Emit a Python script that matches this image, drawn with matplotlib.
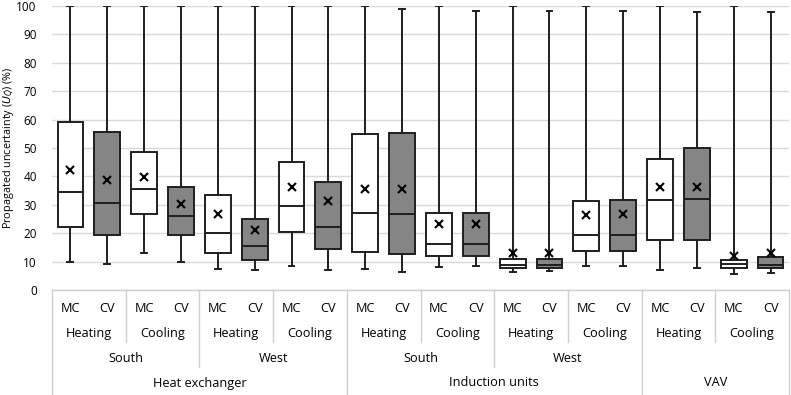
import matplotlib
matplotlib.use('Agg')
import matplotlib.pyplot as plt

plt.rcParams['font.family'] = ['Open Sans', 'DejaVu Sans']

# box statistics (order: HX S H, HX S C, HX W H, HX W C, IU S H, IU S C, IU W H, IU W C, VAV H, VAV C; MC then CV)
methods = ['MC', 'CV'] * 10
modes = ['Heating', 'Cooling'] * 5
orient = ['South', 'West', 'South', 'West']
systems = ['Heat exchanger', 'Induction units', 'VAV']

whis_lo = [10.0, 9.0, 13.1, 10.0, 7.5, 7.1, 8.5, 7.0, 7.4, 6.4,
           8.2, 8.5, 6.3, 6.8, 8.3, 8.5, 7.0, 7.6, 5.7, 6.1]
q1 = [22.1, 19.3, 26.9, 19.3, 12.9, 10.5, 20.4, 14.4, 13.3, 12.8,
      12.1, 12.1, 7.7, 7.8, 13.9, 13.9, 17.6, 17.6, 7.7, 7.9]
median = [34.6, 30.7, 35.6, 25.9, 20.1, 15.6, 29.5, 22.1, 27.2, 26.9,
          16.2, 16.2, 8.9, 8.7, 19.2, 19.3, 31.6, 32.0, 9.0, 8.9]
q3 = [59.3, 55.5, 48.6, 36.1, 33.6, 25.1, 44.9, 38.1, 54.8, 55.4,
      27.2, 27.2, 10.8, 10.9, 31.2, 31.6, 46.2, 50.0, 10.5, 11.5]
whis_hi = [100, 100, 100, 100, 100, 100, 100, 100, 100, 98.8,
           100, 98.2, 100, 98.2, 100, 98.2, 100, 98.0, 100, 98.0]
mean = [42.4, 38.9, 39.8, 30.3, 26.7, 21.3, 36.4, 31.4, 35.5, 35.4,
        23.2, 23.2, 12.9, 12.9, 26.4, 26.7, 36.4, 36.4, 11.9, 12.9]

W, H = 791, 395
fig = plt.figure(figsize=(W / 100, H / 100), dpi=100)
ax = fig.add_axes([52 / W, (H - 290) / H, 737 / W, 284 / H])

stats = []
for i in range(len(q1)):
    stats.append(dict(med=median[i], q1=q1[i], q3=q3[i], whislo=whis_lo[i],
                      whishi=whis_hi[i], mean=mean[i], fliers=[]))

edge = '#1f1f1f'
n = len(stats)
bp = ax.bxp(stats, positions=range(1, n + 1), widths=0.7, showmeans=True,
            showfliers=False, patch_artist=True,
            boxprops=dict(edgecolor=edge, linewidth=1.4),
            medianprops=dict(color=edge, linewidth=1.4),
            whiskerprops=dict(color=edge, linewidth=1.4),
            capprops=dict(color=edge, linewidth=1.4),
            meanprops=dict(marker='x', markeredgecolor='black', markersize=6,
                           markeredgewidth=1.5))
for i, b in enumerate(bp['boxes']):
    b.set_facecolor('white' if methods[i] == 'MC' else '#858585')
for c in bp['caps']:
    x = c.get_xdata()
    mid = (x[0] + x[1]) / 2
    c.set_xdata([mid - 0.08, mid + 0.08])

ax.set_xlim(0.5, n + 0.5)
ax.set_ylim(0, 100)
ax.set_yticks(range(0, 101, 10))
ax.set_xticks([])
ax.grid(axis='y', color='#d9d9d9', linewidth=1)
ax.set_axisbelow(True)
for s in ax.spines.values():
    s.set_visible(False)
ax.tick_params(axis='y', length=0, labelsize=8.5, pad=11)
ax.set_ylabel(r'Propagated uncertainty ($U_{\dot{Q}}$) (%)', fontsize=7.8)
ax.yaxis.set_label_coords(-0.049, 0.5)

# category table under the axis
tb = fig.add_axes([52 / W, 0, 737 / W, 105 / H])
tb.set_xlim(0.5, n + 0.5)
tb.set_ylim(105, 0)
tb.axis('off')
lc = '#d0d0d0'
tb.plot([0.5, n + 0.5], [0, 0], color=lc, lw=1, clip_on=False)
for x in [0.5, 8.5, 16.5, 20.5]:
    tb.plot([x, x], [0, 105], color=lc, lw=1, clip_on=False)
for x in [4.5, 12.5]:
    tb.plot([x, x], [0, 77], color=lc, lw=1, clip_on=False)
for x in [2.5, 6.5, 10.5, 14.5, 18.5]:
    tb.plot([x, x], [0, 52], color=lc, lw=1, clip_on=False)

fs = 9.2
for i, m in enumerate(methods):
    tb.text(i + 1, 18, m, ha='center', va='center', fontsize=fs)
for j, m in enumerate(modes):
    tb.text(2 * j + 1.5, 43, m, ha='center', va='center', fontsize=fs)
for j, o in enumerate(orient):
    tb.text(4 * j + 2.5, 69, o, ha='center', va='center', fontsize=fs)
sys_pos = [4.5, 12.5, 18.5]
for j, s in enumerate(systems):
    tb.text(sys_pos[j], 93, s, ha='center', va='center', fontsize=fs)

fig.savefig('out.png', dpi=100)
